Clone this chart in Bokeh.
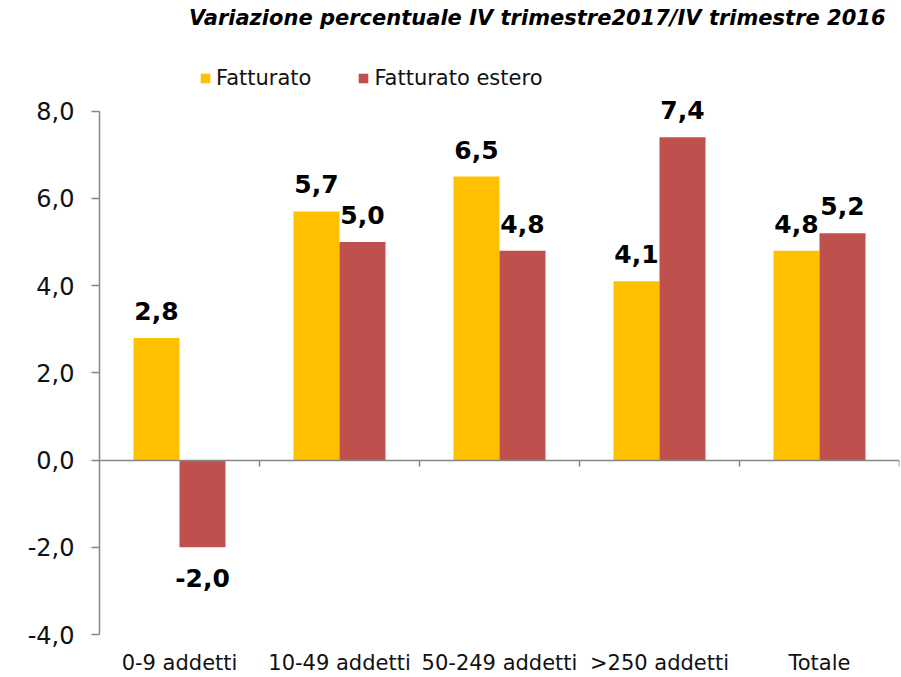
import numpy as np
from bokeh.plotting import figure
from bokeh.models import (Range1d, FixedTicker, LinearAxis, Legend, LegendItem,
                          Label, ColumnDataSource)
from bokeh.core.properties import value
from bokeh.embed import file_html
from bokeh.resources import INLINE

# ---- data ----
categories = ["0-9 addetti", "10-49 addetti", "50-249 addetti", ">250 addetti", "Totale"]
fatturato = [2.8, 5.7, 6.5, 4.1, 4.8]
fatturato_estero = [-2.0, 5.0, 4.8, 7.4, 5.2]
series_names = ["Fatturato", "Fatturato estero"]
series_colors = ["#FFC000", "#C0504D"]
y_ticks = [-4, -2, 0, 2, 4, 6, 8]
y_tick_labels = ["-4,0", "-2,0", "0,0", "2,0", "4,0", "6,0", "8,0"]
title_text = "Variazione percentuale IV trimestre2017/IV trimestre 2016"

FONT = "DejaVu Sans"
AXIS_COLOR = "#868686"

n = len(categories)
idx = np.arange(n)
bw = 0.2875
x_f = idx + 0.5 - bw / 2
x_e = idx + 0.5 + bw / 2

p = figure(width=901, height=677,
           x_range=Range1d(0, n), y_range=Range1d(-4.366, 10.537),
           output_backend="svg", toolbar_location=None,
           x_axis_type=None, y_axis_type=None,
           min_border_left=99, min_border_right=2,
           min_border_top=0, min_border_bottom=25)
p.outline_line_color = None
p.background_fill_color = "white"
p.border_fill_color = "white"

# y axis
yaxis = LinearAxis(ticker=FixedTicker(ticks=y_ticks),
                   major_label_overrides={t: l for t, l in zip(y_ticks, y_tick_labels)},
                   bounds=(min(y_ticks), max(y_ticks)))
yaxis.axis_line_color = AXIS_COLOR
yaxis.axis_line_width = 1.5
yaxis.major_tick_line_color = AXIS_COLOR
yaxis.major_tick_line_width = 1.5
yaxis.major_tick_out = 8
yaxis.major_tick_in = 0
yaxis.minor_tick_line_color = None
yaxis.major_label_standoff = 17
yaxis.major_label_text_font = FONT
yaxis.major_label_text_font_size = "24px"
yaxis.major_label_text_color = "#111111"
p.add_layout(yaxis, "left")

# zero line axis with ticks between categories (no labels)
zticks = list(range(1, n + 1))
zaxis = LinearAxis(fixed_location=0, ticker=FixedTicker(ticks=zticks),
                   major_label_overrides={t: "" for t in zticks})
zaxis.axis_line_color = AXIS_COLOR
zaxis.axis_line_width = 1.5
zaxis.major_tick_line_color = AXIS_COLOR
zaxis.major_tick_line_width = 1.5
zaxis.major_tick_out = 6
zaxis.major_tick_in = 0
zaxis.minor_tick_line_color = None
zaxis.major_label_standoff = 0
p.add_layout(zaxis, "below")

# category labels axis
xaxis = LinearAxis(ticker=FixedTicker(ticks=list(idx + 0.5)),
                   major_label_overrides={float(i + 0.5): c for i, c in zip(idx, categories)})
xaxis.axis_line_color = None
xaxis.major_tick_line_color = None
xaxis.minor_tick_line_color = None
xaxis.major_tick_out = 0
xaxis.major_tick_in = 0
xaxis.major_label_standoff = 0
xaxis.major_label_text_font = FONT
xaxis.major_label_text_font_size = "21px"
xaxis.major_label_text_color = "#111111"
p.add_layout(xaxis, "below")

# bars
r1 = p.vbar(x=x_f, top=fatturato, bottom=0, width=bw,
            fill_color=series_colors[0], line_color=None)
r2 = p.vbar(x=x_e, top=fatturato_estero, bottom=0, width=bw,
            fill_color=series_colors[1], line_color=None)

# data labels
all_x = list(x_f) + list(x_e)
all_v = list(fatturato) + list(fatturato_estero)
lab_src = ColumnDataSource(dict(
    x=all_x,
    y=all_v,
    text=[f"{v:.1f}".replace(".", ",") for v in all_v],
    yoff=[-27 if v >= 0 else 31 for v in all_v],
))
p.text(x="x", y="y", text="text", y_offset="yoff", source=lab_src,
       text_align="center", text_baseline="middle",
       text_font=value(FONT), text_font_style="bold",
       text_font_size="25px", text_color="black")

# title
p.add_layout(Label(x=4.9125, y=10.126, text=title_text,
                   text_align="right", text_baseline="middle",
                   text_font=FONT, text_font_style="bold italic",
                   text_font_size="21px", text_color="black"))

# legend
legend = Legend(items=[LegendItem(label=series_names[0], renderers=[r1]),
                       LegendItem(label=series_names[1], renderers=[r2])],
                orientation="horizontal", location=(100, 560),
                glyph_width=12, glyph_height=12, label_standoff=5, spacing=46,
                padding=0, margin=0, border_line_color=None,
                background_fill_alpha=0,
                label_text_font=FONT, label_text_font_size="21px",
                label_text_color="#111111")
p.add_layout(legend, "center")

open("out.html", "w").write(file_html(p, INLINE))
